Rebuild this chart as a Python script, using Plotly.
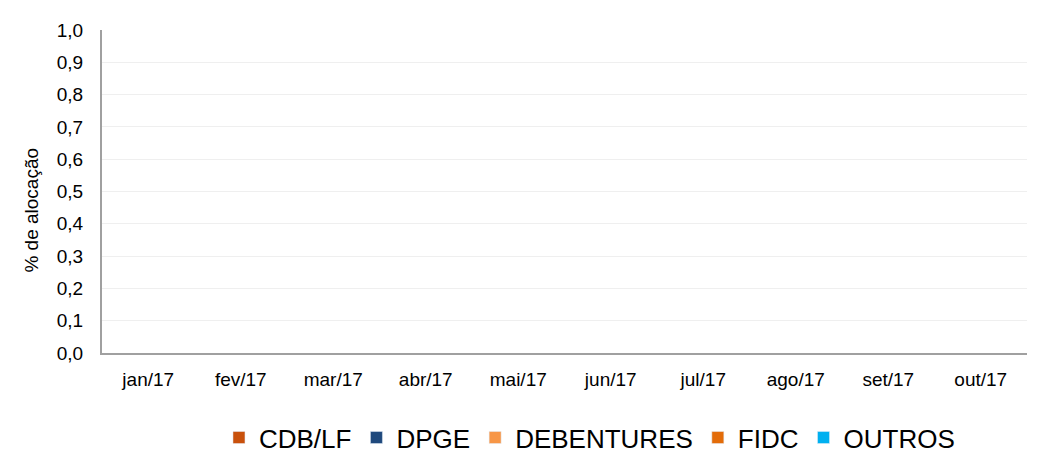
import plotly.graph_objects as go

months = ["jan/17", "fev/17", "mar/17", "abr/17", "mai/17", "jun/17",
          "jul/17", "ago/17", "set/17", "out/17"]
cdb_lf = [0, 0, 0, 0, 0, 0, 0, 0, 0, 0]
dpge = [0, 0, 0, 0, 0, 0, 0, 0, 0, 0]
debentures = [0, 0, 0, 0, 0, 0, 0, 0, 0, 0]
fidc = [0, 0, 0, 0, 0, 0, 0, 0, 0, 0]
outros = [0, 0, 0, 0, 0, 0, 0, 0, 0, 0]

series = [
    ("CDB/LF", cdb_lf, "#c9510c"),
    ("DPGE", dpge, "#1f497d"),
    ("DEBENTURES", debentures, "#f79646"),
    ("FIDC", fidc, "#e36c09"),
    ("OUTROS", outros, "#00b0f0"),
]

fig = go.Figure()
for name, vals, color in series:
    fig.add_trace(go.Bar(x=months, y=vals, name=name, marker_color=color))

# page body has an 8px margin, so the figure is drawn 8px smaller and offset
fig.update_layout(
    width=1035, height=450,
    barmode="stack",
    separators=",.",
    paper_bgcolor="white", plot_bgcolor="white",
    margin=dict(l=94, r=16, t=22, b=105, autoexpand=False),
    font=dict(family="Liberation Sans, Arial, sans-serif", size=19, color="#000000"),
    legend=dict(orientation="h", x=0.527, xanchor="center", y=-0.262, yanchor="middle",
                font=dict(size=26), traceorder="normal", itemwidth=30,
                bgcolor="rgba(0,0,0,0)"),
    showlegend=True,
    annotations=[dict(text="% de alocação", xref="paper", yref="paper",
                      x=-0.076, y=0.443, xanchor="center", yanchor="middle",
                      textangle=-90, showarrow=False, font=dict(size=19))],
)
fig.update_yaxes(range=[0, 1], dtick=0.1, tickformat=".1f", automargin=False,
                 showgrid=True, gridcolor="#efefef", gridwidth=1,
                 showline=True, linecolor="#a0a0a0", linewidth=2,
                 zeroline=False, ticks="", ticklen=0, ticklabelstandoff=13)
fig.update_xaxes(showline=True, linecolor="#a0a0a0", linewidth=2, automargin=False,
                 showgrid=False, ticks="", ticklabelstandoff=8)

fig.write_html("out.html")
